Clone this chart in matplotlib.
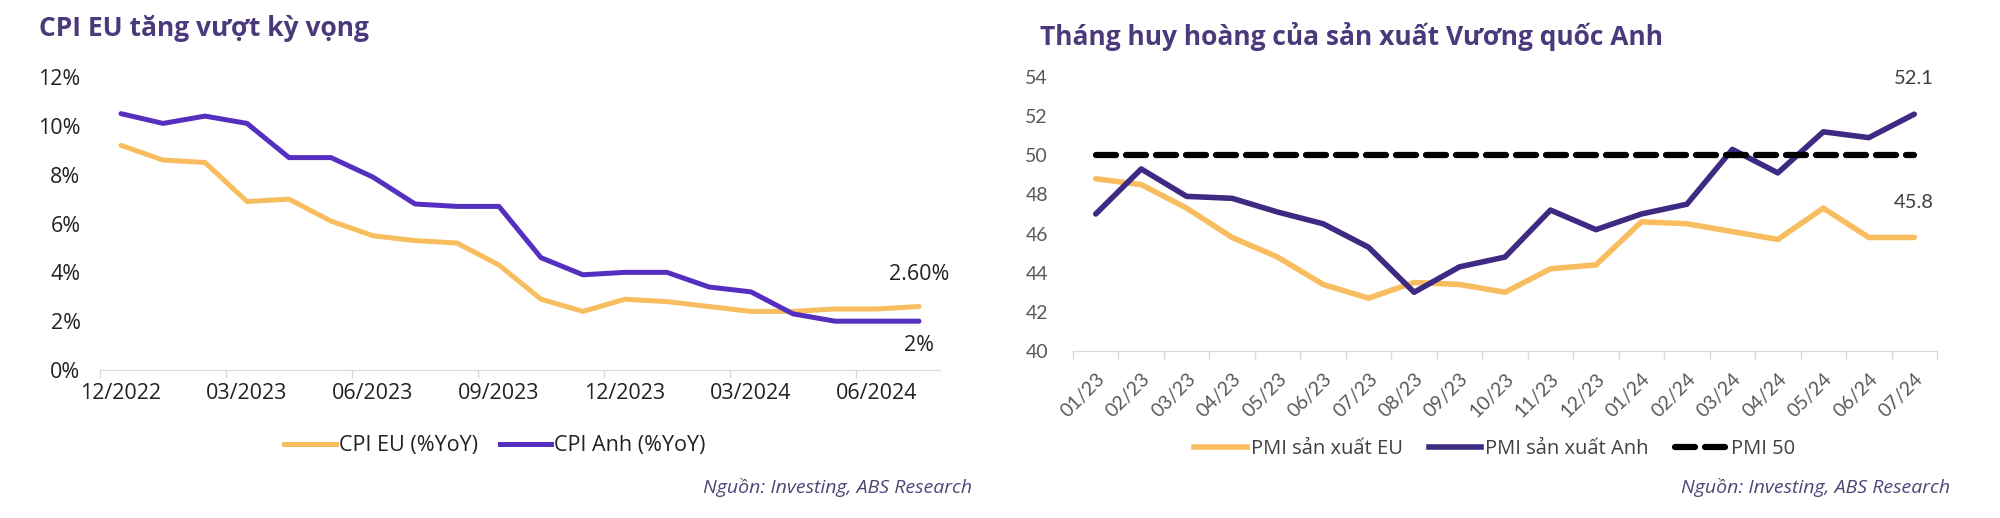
import numpy as np
import matplotlib
matplotlib.use("Agg")
import matplotlib.pyplot as plt
from matplotlib.lines import Line2D

plt.rcParams['font.family'] = ['Open Sans', 'Noto Sans', 'DejaVu Sans']

# left chart: CPI, 12/2022 -> 07/2024
cpi_months = ["12/2022", "01/2023", "02/2023", "03/2023", "04/2023", "05/2023", "06/2023",
              "07/2023", "08/2023", "09/2023", "10/2023", "11/2023", "12/2023", "01/2024",
              "02/2024", "03/2024", "04/2024", "05/2024", "06/2024", "07/2024"]
cpi_eu = [9.2, 8.6, 8.5, 6.9, 7.0, 6.1, 5.5, 5.3, 5.2, 4.3, 2.9, 2.4, 2.9, 2.8, 2.6, 2.4, 2.4, 2.5, 2.5, 2.6]
cpi_uk = [10.5, 10.1, 10.4, 10.1, 8.7, 8.7, 7.9, 6.8, 6.7, 6.7, 4.6, 3.9, 4.0, 4.0, 3.4, 3.2, 2.3, 2.0, 2.0, 2.0]

# right chart: manufacturing PMI, 01/23 -> 07/24
pmi_months = ["01/23", "02/23", "03/23", "04/23", "05/23", "06/23", "07/23", "08/23", "09/23", "10/23",
              "11/23", "12/23", "01/24", "02/24", "03/24", "04/24", "05/24", "06/24", "07/24"]
pmi_eu = [48.8, 48.5, 47.3, 45.8, 44.8, 43.4, 42.7, 43.5, 43.4, 43.0, 44.2, 44.4, 46.6, 46.5, 46.1, 45.7, 47.3, 45.8, 45.8]
pmi_uk = [47.0, 49.3, 47.9, 47.8, 47.1, 46.5, 45.3, 43.0, 44.3, 44.8, 47.2, 46.2, 47.0, 47.5, 50.3, 49.1, 51.2, 50.9, 52.1]
pmi_line = 50

ORANGE = '#F8BD5E'
PURPLE_L = '#5530C0'
PURPLE_R = '#3E2A82'
TITLE_C = '#4A3A7C'
SRC_C = '#4B4877'

fig = plt.figure(figsize=(20, 5.18), dpi=100)

# ---------------- left ----------------
ax1 = fig.add_axes([0.05, 0.2857, 0.42, 0.5656])
x1 = np.arange(len(cpi_months))
ax1.plot(x1, cpi_eu, color=ORANGE, lw=3.6, solid_joinstyle='round', solid_capstyle='round')
ax1.plot(x1, cpi_uk, color=PURPLE_L, lw=3.6, solid_joinstyle='round', solid_capstyle='round')
ax1.set_xlim(-0.5, len(cpi_months) - 0.5)
ax1.set_ylim(0, 12)
ax1.set_yticks(np.arange(0, 13, 2))
ax1.set_yticklabels([f"{v}%" for v in range(0, 13, 2)])
ax1.set_xticks(np.arange(-0.5, len(cpi_months), 3))
ax1.set_xticklabels([])
ax1.set_xticks(x1[::3], minor=True)
ax1.set_xticklabels(cpi_months[::3], minor=True)
ax1.tick_params(axis='x', which='major', length=6, color='#D9D9D9', width=1)
ax1.tick_params(axis='x', which='minor', length=0, pad=9, labelsize=15.5, labelcolor='#222222')
ax1.tick_params(axis='y', length=0, pad=14, labelsize=15.5, labelcolor='#222222')
for s in ['top', 'right', 'left']:
    ax1.spines[s].set_visible(False)
ax1.spines['bottom'].set_color('#D9D9D9')
ax1.text(x1[-1], cpi_eu[-1] + 1.3, "2.60%", ha='center', va='center', fontsize=15.5, color='#222222')
ax1.text(x1[-1], cpi_uk[-1] - 1.0, "2%", ha='center', va='center', fontsize=15.5, color='#222222')

fig.text(0.0195, 0.945, "CPI EU tăng vượt kỳ vọng", fontsize=19, fontweight='bold',
         color=TITLE_C, va='center', ha='left')
h1 = [Line2D([], [], color=ORANGE, lw=3.6), Line2D([], [], color=PURPLE_L, lw=3.6)]
fig.legend(h1, ["CPI EU (%YoY)", "CPI Anh (%YoY)"], loc='center', bbox_to_anchor=(0.2475, 0.139),
           ncol=2, frameon=False, fontsize=15.5, handlelength=2.4, handletextpad=0.15,
           columnspacing=1.0, labelcolor='#222222')
fig.text(0.486, 0.058, "Nguồn: Investing, ABS Research", fontsize=14, style='italic',
         color=SRC_C, ha='right', va='center')

# ---------------- right ----------------
ax2 = fig.add_axes([0.5365, 0.3224, 0.432, 0.529])
x2 = np.arange(len(pmi_months))
ax2.plot(x2, pmi_eu, color=ORANGE, lw=4, solid_joinstyle='round', solid_capstyle='round')
ax2.plot(x2, pmi_uk, color=PURPLE_R, lw=4, solid_joinstyle='round', solid_capstyle='round')
ax2.plot(x2, [pmi_line] * len(x2), color='black', lw=4.5, ls=(0, (3.2, 1.6)),
         dash_capstyle='round')
ax2.set_xlim(-0.5, len(pmi_months) - 0.5)
ax2.set_ylim(40, 54)
ax2.set_yticks(np.arange(40, 55, 2))
ax2.set_xticks(np.arange(-0.5, len(pmi_months), 1))
ax2.set_xticklabels([])
ax2.set_xticks(x2, minor=True)
ax2.set_xticklabels(pmi_months, minor=True, rotation=45, ha='right', rotation_mode='anchor')
ax2.tick_params(axis='x', which='major', length=6, color='#D9D9D9', width=1)
ax2.tick_params(axis='x', which='minor', length=0, pad=14, labelsize=14, labelcolor='#595959')
ax2.tick_params(axis='y', length=0, pad=18, labelsize=14, labelcolor='#595959')
for lab in ax2.get_xticklabels(minor=True) + ax2.get_yticklabels():
    lab.set_fontfamily(['Lato', 'Open Sans'])
for s in ['top', 'right', 'left']:
    ax2.spines[s].set_visible(False)
ax2.spines['bottom'].set_color('#D9D9D9')
ax2.text(x2[-1], pmi_uk[-1] + 1.8, "52.1", ha='center', va='center', fontsize=14.5,
         color='#404040', family=['Lato', 'Open Sans'])
ax2.text(x2[-1], pmi_eu[-1] + 1.8, "45.8", ha='center', va='center', fontsize=14.5,
         color='#404040', family=['Lato', 'Open Sans'])

fig.text(0.52, 0.93, "Tháng huy hoàng của sản xuất Vương quốc Anh", fontsize=19, fontweight='bold',
         color=TITLE_C, va='center', ha='left')
h2 = [Line2D([], [], color=ORANGE, lw=4), Line2D([], [], color=PURPLE_R, lw=4),
      Line2D([], [], color='black', lw=4.5, ls=(0, (3.2, 1.6)), dash_capstyle='round')]
fig.legend(h2, ["PMI sản xuất EU", "PMI sản xuất Anh", "PMI 50"], loc='center',
           bbox_to_anchor=(0.7475, 0.133), ncol=3, frameon=False, fontsize=14.5,
           handlelength=2.6, handletextpad=0.2, columnspacing=1.3,
           labelcolor='#404040')
fig.text(0.975, 0.058, "Nguồn: Investing, ABS Research", fontsize=14, style='italic',
         color=SRC_C, ha='right', va='center')

fig.savefig("out.png", dpi=100, facecolor='white')
